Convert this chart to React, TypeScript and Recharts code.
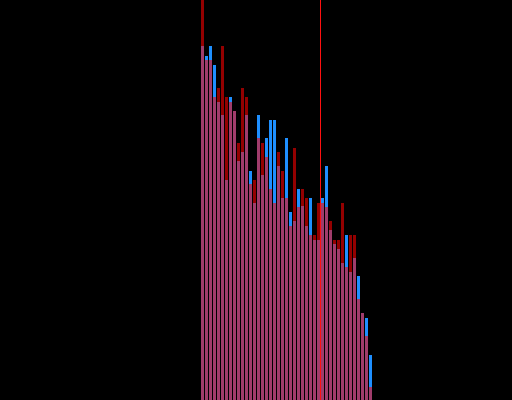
import React from 'react';
import { BarChart, Bar, XAxis, YAxis, ReferenceLine } from 'recharts';

// bin index along the hidden x axis
const bins = Array.from({ length: 43 }, (_, i) => i);

// heights (0..400 scale)
const blueValues = [
  354, 344, 354, 335, 298, 285, 220, 303, 289, 239, 248, 285, 229, 197, 285, 225, 262, 280, 280, 234,
  202, 262, 188, 179, 211, 194, 174, 202, 160, 160, 202, 234, 170, 156, 151, 137, 165, 128, 142, 124,
  87, 82, 45,
];
const redValues = [
  400, 340, 340, 303, 312, 354, 303, 298, 289, 257, 312, 303, 216, 220, 262, 257, 243, 211, 197, 248,
  229, 202, 174, 252, 193, 211, 202, 165, 165, 197, 197, 193, 179, 160, 160, 197, 133, 165, 165, 101,
  87, 64, 13,
];

const markerX = 29.625;

const data = bins.map((x, i) => ({ x, blue: blueValues[i], red: redValues[i] }));

export default function App() {
  return (
    <div style={{ position: 'absolute', top: 0, left: 0, width: 512, height: 400, background: '#000' }}>
      <BarChart
        width={512}
        height={400}
        data={data}
        margin={{ top: 0, right: 0, bottom: 0, left: 0 }}
        barGap={-3}
        style={{ outline: 'none' }}
      >
        <XAxis dataKey="x" type="number" domain={[-50.5, 77.5]} hide />
        <YAxis domain={[0, 400]} hide allowDataOverflow />
        <Bar dataKey="blue" fill="#1e8fff" barSize={3} isAnimationActive={false} />
        <Bar dataKey="red" fill="#ff0000" fillOpacity={0.58} barSize={3} isAnimationActive={false} />
        <ReferenceLine x={markerX} stroke="#ff1010" strokeWidth={1} ifOverflow="extendDomain" />
      </BarChart>
    </div>
  );
}
